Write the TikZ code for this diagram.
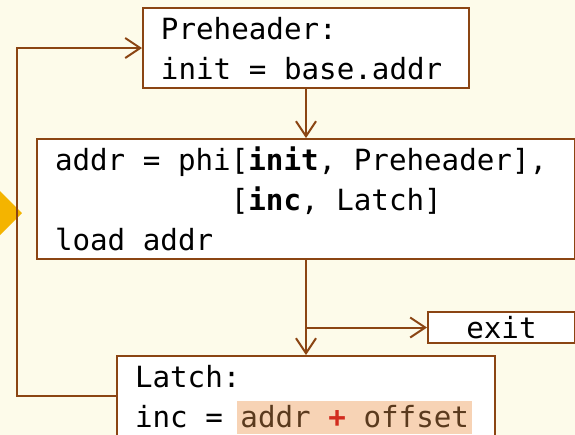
\documentclass[tikz,border=0pt]{standalone}
\usepackage{fontspec}
\setmonofont{DejaVu Sans Mono}
\usetikzlibrary{arrows.meta}
\definecolor{bgcream}{HTML}{FDFBEA}
\definecolor{edgebrown}{HTML}{8B4513}
\definecolor{markgold}{HTML}{F4B400}
\definecolor{hlpeach}{HTML}{F7D3B5}
\definecolor{hltext}{HTML}{5A3A1E}
\definecolor{plusred}{HTML}{D22B1E}
\newcommand{\codefont}{\ttfamily\fontsize{14.6}{20}\selectfont\frenchspacing}
\newcommand{\monospacing}{\spaceskip=0pt\xspaceskip=0pt\relax}
\newcommand{\linestrut}{\rule[-4.5pt]{0pt}{20pt}}
\newcommand{\hlcode}[1]{{\setlength{\fboxsep}{1.5pt}\colorbox{hlpeach}{\rule[-2pt]{0pt}{13.5pt}\textcolor{hltext}{#1}}}}

\begin{document}
\begin{tikzpicture}[x=0.5pt,y=-0.5pt,
                    block/.style={draw=edgebrown, line width=1pt, fill=white, anchor=north west, inner xsep=9pt, inner ysep=0pt, align=left, font=\codefont, execute at begin node=\monospacing},
                    flow/.style={draw=edgebrown, line width=1pt, -{Straight Barb[length=7.5pt,width=10pt]}}]
                    \useasboundingbox (0,0) rectangle (575,435);
                    \fill[bgcream] (0,0) rectangle (575,435);
                    \fill[markgold] (0,191) -- (22,213) -- (0,235) -- cycle;

                    \node[block, text width=145pt] (preheader) at (142,7) {\linestrut Preheader:\\init = base.addr\linestrut};
                    \node[block, text width=251pt] (header) at (36,138) {\linestrut addr = phi[\textbf{init}, Preheader],\\\phantom{addr = phi}[\textbf{inc}, Latch]\\load addr\linestrut};
                    \node[block, align=center, minimum width=73.5pt, text height=13pt, text depth=2.5pt] (exit) at (427,311) {exit};
                    \node[block, text width=171pt] (latch) at (116,355) {\linestrut Latch:\\inc = \hspace{-1.5pt}\hlcode{addr \textcolor{plusred}{\textbf{+}} offset}\linestrut};
                    \coordinate (split) at (header.south |- exit.west);
                    \coordinate (loopx) at (17,0);

                    \draw[flow] (preheader.south) -- (header.north);
                    \draw[flow] (header.south) -- (latch.north);
                    \draw[flow] (split) -- (exit.west);
                    \draw[flow] (latch.west) -- (latch.west -| loopx) |- (preheader.west);
                \end{tikzpicture}
\end{document}
